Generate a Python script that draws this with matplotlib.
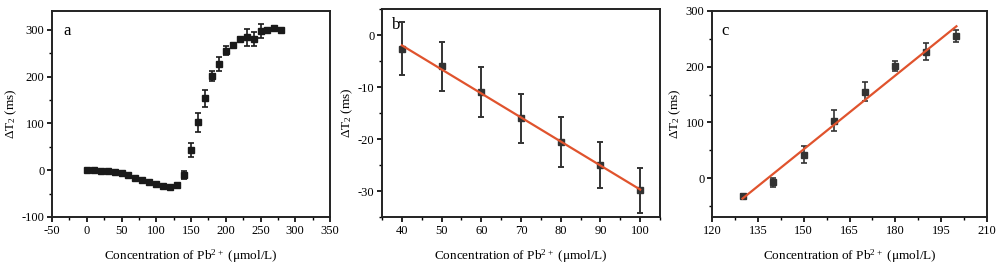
import numpy as np
import matplotlib.pyplot as plt
from matplotlib.ticker import MultipleLocator

plt.rcParams['font.family'] = ['Liberation Serif', 'DejaVu Serif']
plt.rcParams['axes.unicode_minus'] = False

# panel a: full response curve
xa = [0, 10, 20, 30, 40, 50, 60, 70, 80, 90, 100, 110, 120, 130, 140,
      150, 160, 170, 180, 190, 200, 210, 220, 230, 240, 250, 260, 270, 280]
ya = [0, 0, -1, -1, -3, -7, -11, -16, -20, -25, -29, -33, -35, -32, -10,
      43, 102, 154, 201, 226, 255, 268, 281, 284, 281, 297, 300, 304, 300]
ea = [2, 2, 2, 2, 2, 2, 2, 2, 2, 2, 2, 2, 2, 2, 8,
      15, 20, 18, 10, 15, 10, 3, 3, 18, 15, 15, 3, 3, 3]

# panel b: low range
xb = [40, 50, 60, 70, 80, 90, 100]
yb = [-2.6, -6.0, -11.0, -16.0, -20.5, -25.0, -29.9]
eb = [5.1, 4.7, 4.8, 4.7, 4.8, 4.5, 4.3]

# panel c: high range
xc = [130, 140, 150, 160, 170, 180, 190, 200]
yc = [-32, -8, 42, 103, 155, 201, 227, 255]
ec = [3, 8, 15, 19, 17, 9, 15, 10]

label = 'Concentration of Pb$\\mathregular{^{2+}}$ ($\\mathregular{\\mu}$mol/L)'
ylab = '$\\mathregular{\\Delta T_2}$ (ms)'
red = '#e0532d'

fig = plt.figure(figsize=(10.01, 2.73), dpi=100)
axa = fig.add_axes([52/1001, 1-217/273, 278/1001, 206/273])
axb = fig.add_axes([382/1001, 1-217/273, 278/1001, 208/273])
axc = fig.add_axes([712/1001, 1-217/273, 275/1001, 206/273])


def style(ax, xmaj, ymaj):
    ax.xaxis.set_major_locator(MultipleLocator(xmaj))
    ax.xaxis.set_minor_locator(MultipleLocator(xmaj/2))
    ax.yaxis.set_major_locator(MultipleLocator(ymaj))
    ax.yaxis.set_minor_locator(MultipleLocator(ymaj/2))
    ax.tick_params(which='major', direction='out', length=3.5, width=1.2, labelsize=9, pad=2)
    ax.tick_params(which='minor', direction='out', length=2, width=1.0)
    for s in ax.spines.values():
        s.set_linewidth(1.4)
        s.set_color('#222222')
    ax.set_xlabel(label, fontsize=9.5, labelpad=8)
    ax.set_ylabel(ylab, fontsize=9.5, labelpad=2)


axa.errorbar(xa, ya, yerr=ea, fmt='s', color='#1a1a1a', ms=5, capsize=2, elinewidth=1.2, capthick=1.2)
axa.set_xlim(-50, 350)
axa.set_ylim(-100, 340)
style(axa, 50, 100)
axa.text(0.04, 0.94, 'a', transform=axa.transAxes, fontsize=12, va='top')

pb = np.polyfit(xb, yb, 1)
axb.errorbar(xb, yb, yerr=eb, fmt='s', color='#333333', ms=4, capsize=2.5, elinewidth=1.4, capthick=1.4, zorder=2)
axb.plot([xb[0], xb[-1]], np.polyval(pb, [xb[0], xb[-1]]), color=red, lw=1.6, zorder=3)
axb.set_xlim(35, 105)
axb.set_ylim(-35, 5)
style(axb, 10, 10)
axb.text(0.035, 0.96, 'b', transform=axb.transAxes, fontsize=12, va='top')

pc = np.polyfit(xc, yc, 1)
axc.errorbar(xc, yc, yerr=ec, fmt='s', color='#333333', ms=4, capsize=2, elinewidth=1.2, capthick=1.2, zorder=2)
axc.plot([xc[0], xc[-1]], np.polyval(pc, [xc[0], xc[-1]]), color=red, lw=1.6, zorder=3)
axc.set_xlim(120, 210)
axc.set_ylim(-70, 300)
style(axc, 15, 100)
axc.text(0.035, 0.94, 'c', transform=axc.transAxes, fontsize=12, va='top')

fig.savefig('out.png', dpi=100)
